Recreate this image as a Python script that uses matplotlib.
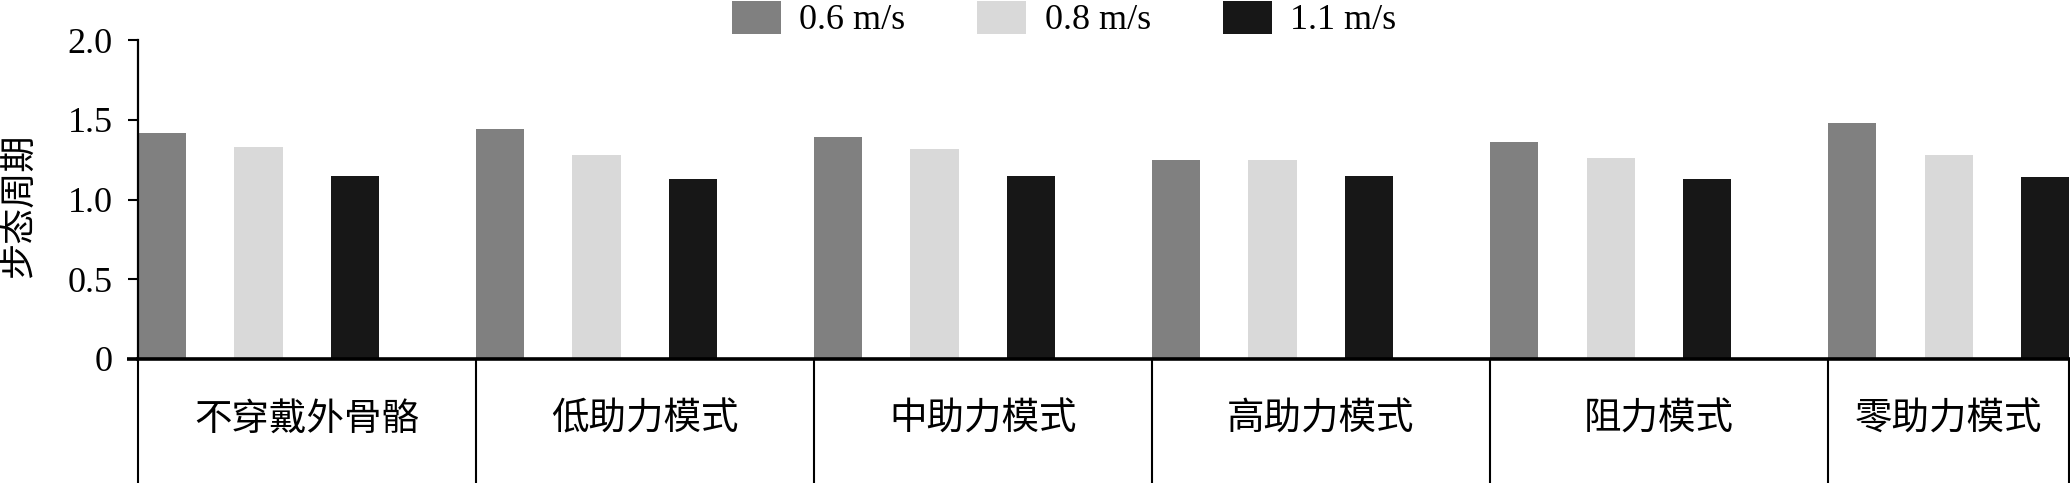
import matplotlib
matplotlib.use("Agg")
import matplotlib.pyplot as plt
from matplotlib.patches import Patch
import numpy as np

categories = ["不穿戴外骨骼", "低助力模式", "中助力模式", "高助力模式", "阻力模式", "零助力模式"]
series_names = ["0.6 m/s", "0.8 m/s", "1.1 m/s"]
v06 = [1.42, 1.44, 1.39, 1.25, 1.36, 1.48]
v08 = [1.33, 1.28, 1.32, 1.25, 1.26, 1.28]
v11 = [1.15, 1.13, 1.15, 1.15, 1.13, 1.14]
y_ticks = [0, 0.5, 1.0, 1.5, 2.0]
y_ticklabels = ["0", "0.5", "1.0", "1.5", "2.0"]
y_label = "步态周期"

colors = ["#808080", "#d9d9d9", "#171717"]
serif = "Liberation Serif"
cjk = ["Noto Sans CJK SC", "DejaVu Sans"]
FS = 26

W, H = 2070, 483
fig = plt.figure(figsize=(W / 100, H / 100), dpi=100)
left_px, right_px, bot_px, top_px = 137.7, 2069.5, 358.7, 40.3
ax = fig.add_axes([left_px / W, 1 - bot_px / H, (right_px - left_px) / W, (bot_px - top_px) / H])

n = len(categories)
slot = 1 / 7
x = np.arange(n)
for k, vals in enumerate([v06, v08, v11]):
    ax.bar(x + 2 * k * slot, vals, width=slot, align="edge", color=colors[k], edgecolor="none", zorder=2)

xmax = (n - 1) + 5 * slot
ax.set_xlim(0, xmax)
ax.set_ylim(0, 2.0)
ax.set_yticks(y_ticks)
ax.set_yticklabels(y_ticklabels, fontfamily=serif, fontsize=FS)
ax.set_xticks([])
ax.tick_params(axis="y", direction="out", length=7, width=1.5, pad=11, color="black")
for s in ["top", "right"]:
    ax.spines[s].set_visible(False)
ax.spines["left"].set_linewidth(1.6)
ax.spines["bottom"].set_linewidth(2.6)
ax.spines["bottom"].set_zorder(3)

# extend the x-axis line left to the tick length
ax.plot([-0.0055, 0.0], [0, 0], transform=ax.transAxes, color="black", lw=2.6, clip_on=False, solid_capstyle="butt")

# category divider lines below the axis
ybot = -(H - bot_px) / (bot_px - top_px) - 0.02
trans = matplotlib.transforms.blended_transform_factory(ax.transData, ax.transAxes)
dividers = list(range(n)) + [xmax - 0.0025]
for d in dividers:
    ax.plot([d, d], [0, ybot], transform=trans, color="black", lw=1.5, clip_on=False)

# category labels
label_y = -(419 - bot_px) / (bot_px - top_px)
for i, c in enumerate(categories):
    xc = i + 0.5 if i < n - 1 else (n - 1 + xmax) / 2
    ax.text(xc, label_y, c, transform=trans, ha="center", va="center", fontsize=27, family=cjk)

fig.text(19 / W, 1 - 206 / H, y_label, rotation=90, ha="center", va="center", fontsize=FS, family=cjk)

handles = [Patch(facecolor=colors[k], edgecolor="none") for k in range(3)]
leg = fig.legend(handles, series_names, loc="center", bbox_to_anchor=(1064 / W, 1 - 19 / H), ncol=3,
                 frameon=False, prop={"family": serif, "size": FS}, handlelength=1.36, handleheight=1.03,
                 handletextpad=0.5, columnspacing=2.0, borderpad=0, borderaxespad=0)

fig.savefig("out.png", dpi=100)
